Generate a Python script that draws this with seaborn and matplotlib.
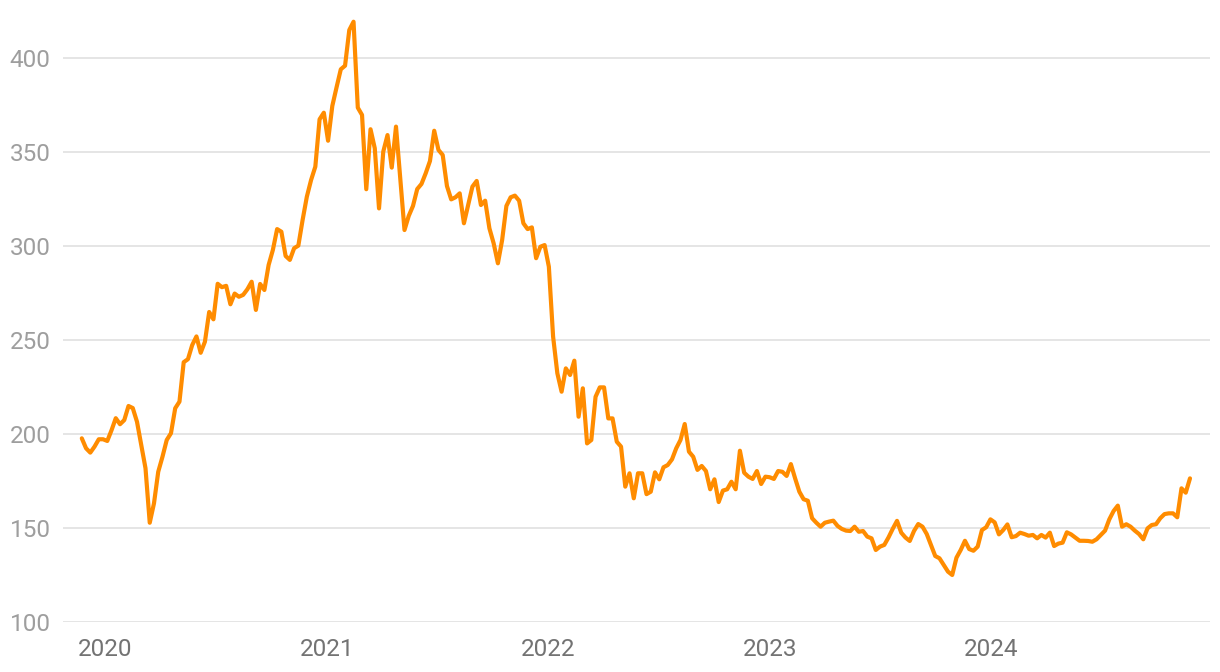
import numpy as np
import pandas as pd
import matplotlib
matplotlib.use("Agg")
import matplotlib.pyplot as plt
import matplotlib.dates as mdates
import seaborn as sns

# Weekly values
start_date = "2019-11-24"
values = [
    197.7, 192.4, 190.1, 193.3, 197.2, 197.2, 196.3, 202.0, 208.4, 205.2,
    207.4, 214.9, 213.8, 206.5, 194.1, 181.8, 152.8, 163.1, 179.9, 187.9,
    196.8, 200.4, 213.7, 217.2, 238.2, 239.8, 247.3, 251.9, 243.2, 249.1,
    264.9, 261.0, 279.9, 278.1, 278.8, 269.0, 274.7, 273.0, 274.0, 277.0,
    281.0, 266.0, 279.8, 276.6, 289.9, 297.9, 309.0, 307.6, 294.7, 292.6,
    298.8, 300.2, 313.8, 326.2, 335.1, 342.2, 367.4, 370.9, 356.0, 374.5,
    384.4, 394.0, 395.9, 414.9, 419.3, 373.6, 369.7, 330.2, 362.1, 352.0,
    320.0, 350.2, 359.0, 341.7, 363.5, 336.0, 308.5, 316.0, 321.3, 330.3,
    333.0, 338.7, 345.2, 361.3, 351.1, 348.4, 331.9, 324.8, 325.9, 328.0,
    312.1, 321.8, 331.6, 334.6, 321.8, 324.1, 309.4, 301.4, 290.8, 303.2,
    321.3, 325.9, 326.8, 324.1, 312.1, 309.0, 309.9, 293.5, 299.6, 300.5,
    289.0, 251.8, 232.3, 222.5, 234.9, 231.4, 239.0, 209.2, 224.3, 195.0,
    196.8, 219.8, 224.8, 224.8, 208.3, 208.3, 195.9, 193.3, 172.0, 179.1,
    165.8, 179.1, 179.1, 168.0, 169.3, 179.6, 175.9, 182.3, 183.5, 186.5,
    192.4, 196.8, 205.3, 190.6, 187.9, 180.9, 183.0, 180.3, 170.6, 175.9,
    163.8, 169.9, 170.6, 174.6, 170.6, 191.1, 179.4, 177.3, 176.1, 180.3,
    173.4, 177.3, 177.0, 176.1, 180.3, 179.9, 177.7, 184.0, 176.4, 169.3,
    165.3, 164.5, 155.2, 152.8, 150.7, 152.8, 153.4, 153.9, 151.1, 149.5,
    148.6, 148.4, 150.7, 148.0, 148.4, 145.4, 144.5, 138.3, 140.1, 141.0,
    145.0, 149.6, 153.8, 147.5, 144.9, 143.1, 148.4, 152.1, 150.7, 146.8,
    141.0, 135.1, 133.9, 130.3, 126.8, 125.0, 134.2, 138.3, 143.2, 138.8,
    137.9, 140.1, 148.9, 150.4, 154.6, 153.0, 146.6, 148.9, 151.9, 145.1,
    145.7, 147.5, 146.8, 145.9, 146.3, 144.5, 146.3, 144.9, 147.5, 140.4,
    141.7, 142.2, 147.7, 146.6, 144.9, 143.2, 143.2, 143.1, 142.7, 144.0,
    146.3, 148.6, 154.6, 159.0, 161.9, 150.7, 152.0, 150.7, 148.6, 146.8,
    144.0, 149.8, 151.6, 152.0, 155.2, 157.4, 157.8, 157.8, 155.7, 171.1,
    168.8, 176.4,
]
y_ticks = [100, 150, 200, 250, 300, 350, 400]
x_tick_years = [2020, 2021, 2022, 2023, 2024]

dates = pd.date_range(start_date, periods=len(values), freq="7D")
df = pd.DataFrame({"date": dates, "value": values})

sns.set_theme(style="white")
plt.rcParams["font.family"] = ["Roboto", "DejaVu Sans"]

fig = plt.figure(figsize=(12.2, 6.72), dpi=100)
ax = fig.add_axes([63 / 1220, (672 - 622) / 672, (1210 - 63) / 1220, (622 - 11) / 672])

sns.lineplot(data=df, x="date", y="value", ax=ax, color="#FF8C00", linewidth=3.0)

ax.set_ylim(100, 425)
ax.set_xlim(dates[0] - pd.Timedelta(days=31), dates[-1] + pd.Timedelta(days=33))
ax.set_yticks(y_ticks)
ax.set_yticklabels([str(v) for v in y_ticks])
ax.set_xticks([pd.Timestamp(f"{y}-01-01") for y in x_tick_years])
ax.set_xticklabels([str(y) for y in x_tick_years])

ax.grid(axis="y", color="#e3e3e3", linewidth=1.3)
ax.grid(axis="x", visible=False)
for s in ax.spines.values():
    s.set_visible(False)
ax.tick_params(axis="y", length=0, pad=9, labelsize=17.5, labelcolor="#9e9e9e")
ax.tick_params(axis="x", length=0, pad=11.5, labelsize=17.5, labelcolor="#737373")
ax.set_xlabel("")
ax.set_ylabel("")

fig.savefig("out.png", dpi=100, facecolor="white")
